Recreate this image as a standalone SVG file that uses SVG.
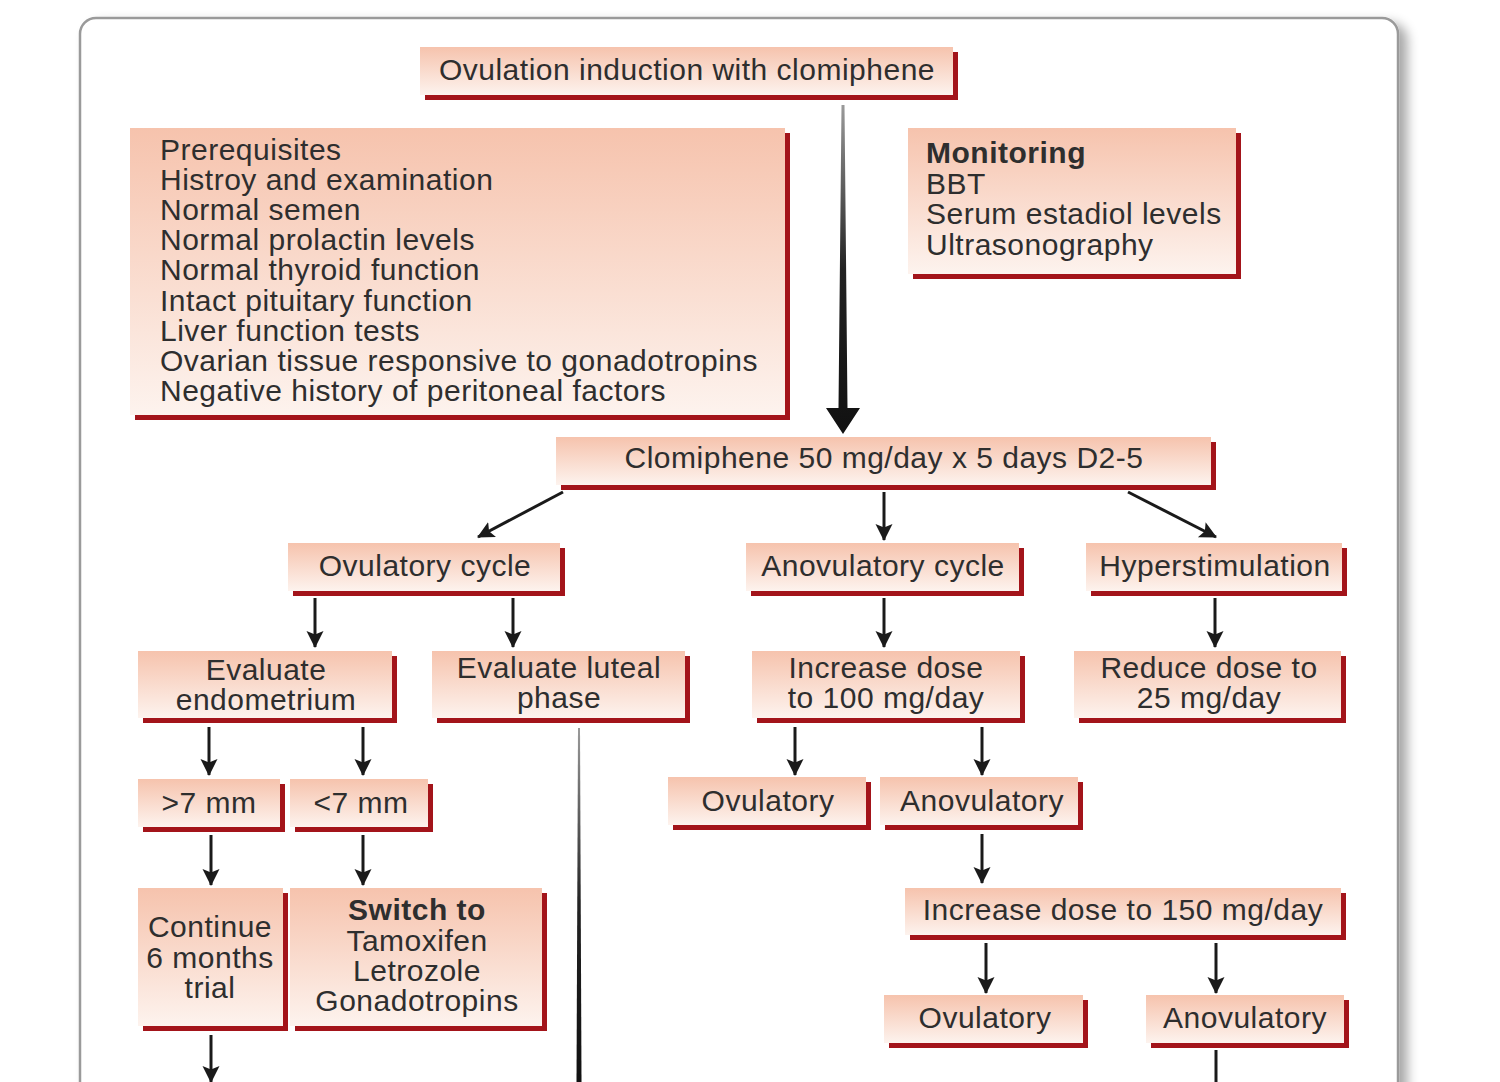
<svg xmlns="http://www.w3.org/2000/svg" width="1500" height="1082" viewBox="0 0 1500 1082">
<defs>
<linearGradient id="boxg" x1="0" y1="0" x2="0" y2="1">
<stop offset="0" stop-color="#f6c3ad"/>
<stop offset="1" stop-color="#fdf3ee"/>
</linearGradient>
<linearGradient id="stem" x1="0" y1="0" x2="0" y2="1">
<stop offset="0" stop-color="#9a9a9a"/>
<stop offset="0.5" stop-color="#222"/>
<stop offset="1" stop-color="#111"/>
</linearGradient>
<filter id="fshadow" x="-5%" y="-5%" width="115%" height="115%">
<feGaussianBlur in="SourceAlpha" stdDeviation="6"/>
<feOffset dx="8" dy="6"/>
<feComponentTransfer><feFuncA type="linear" slope="0.35"/></feComponentTransfer>
<feMerge><feMergeNode/><feMergeNode in="SourceGraphic"/></feMerge>
</filter>
<marker id="ah" markerUnits="userSpaceOnUse" markerWidth="20" markerHeight="20" refX="16" refY="8.5" orient="auto">
<path d="M0,0 L17,8.5 L0,17 L3.5,8.5 z" fill="#1a1a1a"/>
</marker>
</defs>
<style>
.sh{fill:#a3141a}
.bx{fill:url(#boxg)}
.t{font-family:"Liberation Sans",Arial,sans-serif;font-size:30px;letter-spacing:0.5px;fill:#2e2e2e}
.c{text-anchor:middle}
.b{font-weight:bold}
.ln{stroke:#1a1a1a;stroke-width:3;fill:none;marker-end:url(#ah)}
</style>
<rect x="80" y="18" width="1318" height="1100" rx="16" ry="16" fill="#fff" stroke="#9a9a9a" stroke-width="2.5" filter="url(#fshadow)"/>

<g id="connectors">
<polygon points="841.5,105 844.5,105 847.5,408 860,408 843,434 826,408 838.5,408" fill="url(#stem)"/>
<line class="ln" x1="563" y1="492" x2="478" y2="537"/>
<line class="ln" x1="884" y1="492" x2="884" y2="540"/>
<line class="ln" x1="1128" y1="492" x2="1216" y2="537"/>
<line class="ln" x1="315" y1="598" x2="315" y2="647"/>
<line class="ln" x1="513" y1="598" x2="513" y2="647"/>
<line class="ln" x1="884" y1="598" x2="884" y2="647"/>
<line class="ln" x1="1215" y1="598" x2="1215" y2="647"/>
<line class="ln" x1="209" y1="727" x2="209" y2="775"/>
<line class="ln" x1="363" y1="727" x2="363" y2="775"/>
<line class="ln" x1="795" y1="727" x2="795" y2="775"/>
<line class="ln" x1="982" y1="727" x2="982" y2="775"/>
<polygon points="578,728 580,728 581.5,1082 576.5,1082" fill="url(#stem)"/>
<line class="ln" x1="211" y1="835" x2="211" y2="885"/>
<line class="ln" x1="363" y1="835" x2="363" y2="885"/>
<line class="ln" x1="982" y1="834" x2="982" y2="883"/>
<line class="ln" x1="986" y1="943" x2="986" y2="993"/>
<line class="ln" x1="1216" y1="943" x2="1216" y2="993"/>
<line class="ln" x1="211" y1="1035" x2="211" y2="1082"/>
<line x1="1216" y1="1050" x2="1216" y2="1082" stroke="#1a1a1a" stroke-width="3"/>
</g>

<g id="n-top"><rect class="sh" x="425" y="52" width="533" height="48"/><rect class="bx" x="420" y="47" width="533" height="48"/><text class="t c" x="687" y="80">Ovulation induction with clomiphene</text></g>

<g id="n-prereq"><rect class="sh" x="135" y="133" width="655" height="287"/><rect class="bx" x="130" y="128" width="655" height="287"/>
<text class="t" x="160" y="160">Prerequisites</text>
<text class="t" x="160" y="190">Histroy and examination</text>
<text class="t" x="160" y="220">Normal semen</text>
<text class="t" x="160" y="250">Normal prolactin levels</text>
<text class="t" x="160" y="280">Normal thyroid function</text>
<text class="t" x="160" y="311">Intact pituitary function</text>
<text class="t" x="160" y="341">Liver function tests</text>
<text class="t" x="160" y="371">Ovarian tissue responsive to gonadotropins</text>
<text class="t" x="160" y="401">Negative history of peritoneal factors</text>
</g>

<g id="n-monitor"><rect class="sh" x="913" y="133" width="328" height="146"/><rect class="bx" x="908" y="128" width="328" height="146"/>
<text class="t b" x="926" y="163">Monitoring</text>
<text class="t" x="926" y="194">BBT</text>
<text class="t" x="926" y="224">Serum estadiol levels</text>
<text class="t" x="926" y="255">Ultrasonography</text>
</g>

<g id="n-clomid"><rect class="sh" x="561" y="442" width="655" height="48"/><rect class="bx" x="556" y="437" width="655" height="48"/><text class="t c" x="884" y="468">Clomiphene 50 mg/day x 5 days D2-5</text></g>

<g id="n-ovcycle"><rect class="sh" x="293" y="548" width="272" height="48"/><rect class="bx" x="288" y="543" width="272" height="48"/><text class="t c" x="425" y="576">Ovulatory cycle</text></g>
<g id="n-anovcycle"><rect class="sh" x="751" y="548" width="273" height="48"/><rect class="bx" x="746" y="543" width="273" height="48"/><text class="t c" x="883" y="576">Anovulatory cycle</text></g>
<g id="n-hyper"><rect class="sh" x="1091" y="548" width="256" height="48"/><rect class="bx" x="1086" y="543" width="256" height="48"/><text class="t c" x="1215" y="576">Hyperstimulation</text></g>

<g id="n-evalendo"><rect class="sh" x="143" y="656" width="254" height="67"/><rect class="bx" x="138" y="651" width="254" height="67"/><text class="t c" x="266" y="680">Evaluate</text><text class="t c" x="266" y="710">endometrium</text></g>
<g id="n-evalluteal"><rect class="sh" x="437" y="656" width="253" height="67"/><rect class="bx" x="432" y="651" width="253" height="67"/><text class="t c" x="559" y="678">Evaluate luteal</text><text class="t c" x="559" y="708">phase</text></g>
<g id="n-inc100"><rect class="sh" x="757" y="656" width="268" height="67"/><rect class="bx" x="752" y="651" width="268" height="67"/><text class="t c" x="886" y="678">Increase dose</text><text class="t c" x="886" y="708">to 100 mg/day</text></g>
<g id="n-reduce"><rect class="sh" x="1079" y="656" width="267" height="67"/><rect class="bx" x="1074" y="651" width="267" height="67"/><text class="t c" x="1209" y="678">Reduce dose to</text><text class="t c" x="1209" y="708">25 mg/day</text></g>

<g id="n-gt7"><rect class="sh" x="143" y="784" width="142" height="48"/><rect class="bx" x="138" y="779" width="142" height="48"/><text class="t c" x="209" y="813">&gt;7 mm</text></g>
<g id="n-lt7"><rect class="sh" x="295" y="784" width="138" height="48"/><rect class="bx" x="290" y="779" width="138" height="48"/><text class="t c" x="361" y="813">&lt;7 mm</text></g>
<g id="n-ov1"><rect class="sh" x="673" y="782" width="198" height="48"/><rect class="bx" x="668" y="777" width="198" height="48"/><text class="t c" x="768" y="811">Ovulatory</text></g>
<g id="n-anov1"><rect class="sh" x="885" y="782" width="198" height="48"/><rect class="bx" x="880" y="777" width="198" height="48"/><text class="t c" x="982" y="811">Anovulatory</text></g>

<g id="n-continue"><rect class="sh" x="143" y="893" width="145" height="138"/><rect class="bx" x="138" y="888" width="145" height="138"/><text class="t c" x="210" y="937">Continue</text><text class="t c" x="210" y="968">6 months</text><text class="t c" x="210" y="998">trial</text></g>
<g id="n-switch"><rect class="sh" x="295" y="893" width="252" height="138"/><rect class="bx" x="290" y="888" width="252" height="138"/><text class="t c b" x="417" y="920">Switch to</text><text class="t c" x="417" y="951">Tamoxifen</text><text class="t c" x="417" y="981">Letrozole</text><text class="t c" x="417" y="1011">Gonadotropins</text></g>
<g id="n-inc150"><rect class="sh" x="910" y="893" width="436" height="47"/><rect class="bx" x="905" y="888" width="436" height="47"/><text class="t c" x="1123" y="920">Increase dose to 150 mg/day</text></g>
<g id="n-ov2"><rect class="sh" x="889" y="1000" width="199" height="48"/><rect class="bx" x="884" y="995" width="199" height="48"/><text class="t c" x="985" y="1028">Ovulatory</text></g>
<g id="n-anov2"><rect class="sh" x="1151" y="1000" width="198" height="48"/><rect class="bx" x="1146" y="995" width="198" height="48"/><text class="t c" x="1245" y="1028">Anovulatory</text></g>
</svg>
